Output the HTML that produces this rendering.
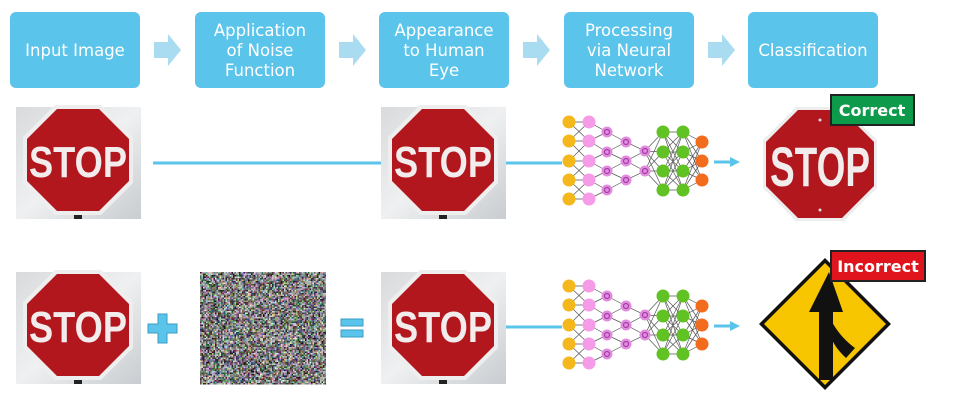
<!DOCTYPE html>
<html><head><meta charset="utf-8"><style>
body{margin:0;background:#fff;width:975px;height:416px;overflow:hidden}
svg{display:block}
.h{font-family:"DejaVu Sans","Liberation Sans",sans-serif;font-size:16.5px;fill:#fff;text-anchor:middle}
.stop{font-family:"Liberation Sans Narrow","Liberation Sans",sans-serif;font-weight:bold;fill:#f2ecec;text-anchor:middle}
</style></head><body>
<svg id="s" width="975" height="416" viewBox="0 0 975 416" xmlns="http://www.w3.org/2000/svg">
<defs>
<linearGradient id="sky" x1="0" y1="0" x2="1" y2="1"><stop offset="0" stop-color="#d8dadc"/><stop offset=".5" stop-color="#eef0f1"/><stop offset="1" stop-color="#c9ccd0"/></linearGradient>
<g id="oct"><polygon points="-23,-55 23,-55 55,-23 55,23 23,55 -23,55 -55,23 -55,-23" fill="#eee" /><polygon points="-21,-51 21,-51 51,-21 51,21 21,51 -21,51 -51,21 -51,-21" fill="#b3171e"/></g>
<g id="photo"><rect x="0" y="0" width="125" height="112" fill="url(#sky)"/><rect x="58" y="104" width="8" height="8" fill="#222"/><use href="#oct" transform="translate(62,53)"/></g>
</defs>
<g fill="#5bc4ea">
<rect x="10" y="12" width="130" height="76" rx="6"/>
<rect x="195" y="12" width="130" height="76" rx="6"/>
<rect x="379" y="12" width="130" height="76" rx="6"/>
<rect x="564" y="12" width="130" height="76" rx="6"/>
<rect x="748" y="12" width="130" height="76" rx="6"/>
</g>
<g fill="#a9dcf1">
<polygon points="154,42 168,42 168,34 181,50 168,66 168,58 154,58"/>
<polygon points="339,42 353,42 353,34 366,50 353,66 353,58 339,58"/>
<polygon points="523,42 537,42 537,34 550,50 537,66 537,58 523,58"/>
<polygon points="708,42 722,42 722,34 735,50 722,66 722,58 708,58"/>
</g>
<text class="h" x="75" y="56">Input Image</text>
<text class="h" x="260" y="36">Application</text><text class="h" x="260" y="56">of Noise</text><text class="h" x="260" y="76">Function</text>
<text class="h" x="444" y="36">Appearance</text><text class="h" x="444" y="56">to Human</text><text class="h" x="444" y="76">Eye</text>
<text class="h" x="629" y="36">Processing</text><text class="h" x="629" y="56">via Neural</text><text class="h" x="629" y="76">Network</text>
<text class="h" x="813" y="56">Classification</text>
<g stroke="#5bc4ea" stroke-width="3">
<line x1="153" y1="163" x2="382" y2="163"/><line x1="505" y1="163" x2="562" y2="163"/>
<line x1="505" y1="327" x2="562" y2="327"/>
<line x1="714" y1="162" x2="732" y2="162"/><line x1="714" y1="326" x2="732" y2="326"/>
</g>
<g fill="#5bc4ea"><polygon points="730,157 740,162 730,167"/><polygon points="730,321 740,326 730,331"/></g>
<use href="#photo" x="16" y="107"/><text class="stop" x="78" y="177" font-size="44" textLength="98" lengthAdjust="spacingAndGlyphs">STOP</text>
<use href="#photo" x="381" y="107"/><text class="stop" x="443" y="177" font-size="44" textLength="98" lengthAdjust="spacingAndGlyphs">STOP</text>
<use href="#photo" x="16" y="272"/><text class="stop" x="78" y="342" font-size="44" textLength="98" lengthAdjust="spacingAndGlyphs">STOP</text>
<use href="#photo" x="381" y="272"/><text class="stop" x="443" y="342" font-size="44" textLength="98" lengthAdjust="spacingAndGlyphs">STOP</text>
<g fill="#5bc4ea" stroke="#3a9cc4" stroke-width="1">
<polygon points="158,314 167,314 167,324 177,324 177,333 167,333 167,343 158,343 158,333 148,333 148,324 158,324"/>
<rect x="341" y="319" width="22" height="7"/><rect x="341" y="330" width="22" height="7"/>
</g>
<g id="noise"></g>
<g id="nets"></g>
<g transform="translate(820,164)"><polygon points="-24,-57 24,-57 57,-24 57,24 24,57 -24,57 -57,24 -57,-24" fill="#eee"/><polygon points="-22,-54 22,-54 54,-22 54,22 22,54 -22,54 -54,22 -54,-22" fill="#b3171e"/><circle cx="0" cy="-44" r="1.5" fill="#ddd"/><circle cx="0" cy="46" r="1.5" fill="#ddd"/></g>
<text class="stop" x="820" y="186" font-size="56" textLength="100" lengthAdjust="spacingAndGlyphs">STOP</text>
<g transform="translate(825,324)"><polygon points="0,-66 66,0 0,66 -66,0" fill="#111"/><polygon points="0,-61 61,0 0,61 -61,0" fill="#f7c600"/>
<polygon points="4,-52 -16,-12 -6,-12 -6,56 8,56 8,-12 18,-12" fill="#111"/>
<path d="M7,-2 Q16,14 30,24 L21,34 Q8,22 5,10Z" fill="#111"/></g>
<rect x="831" y="95" width="83" height="30" fill="#0d9a4a" stroke="#222" stroke-width="2"/>
<text x="872" y="116" font-family="DejaVu Sans,sans-serif" font-size="16" font-weight="bold" fill="#fff" text-anchor="middle">Correct</text>
<rect x="831" y="251" width="94" height="30" fill="#e0141c" stroke="#222" stroke-width="2"/>
<text x="878" y="272" font-family="DejaVu Sans,sans-serif" font-size="16" font-weight="bold" fill="#fff" text-anchor="middle">Incorrect</text>
</svg>
<script>
var NS="http://www.w3.org/2000/svg";
function el(p,t,a){var e=document.createElementNS(NS,t);for(var k in a)e.setAttribute(k,a[k]);p.appendChild(e);return e;}
var nz=document.getElementById('noise');
var seed=7;function r(){seed=(seed*16807)%2147483647;return seed/2147483647;}
el(nz,'rect',{x:200,y:272,width:126,height:112,fill:'#8a8a88'});
for(var y=0;y<112;y+=1.5)for(var x=0;x<126;x+=1.5){var g=40+r()*170;var c=[r(),r(),r()].map(function(v){return Math.max(0,Math.min(255,Math.floor(g+(v-0.5)*90)))});el(nz,'rect',{x:200+x,y:272+y,width:1.5,height:1.5,fill:'rgb('+c.join(',')+')'});}
var L=[[569,[122,141,161,180,199],'#f5b81c'],[589,[122,141,161,180,199],'#f59be8'],[607,[132,152,171,190],'#e28be0'],[626,[142,161,180],'#e28be0'],[645,[151,171],'#e28be0'],[663,[132,152,171,190],'#61c323'],[683,[132,152,171,190],'#61c323'],[702,[142,161,180],'#f36b1c']];
var nets=document.getElementById('nets');
[0,164].forEach(function(dy){
 for(var i=0;i<L.length-1;i++){var a=L[i],b=L[i+1];a[1].forEach(function(ya){b[1].forEach(function(yb){if(i<4&&Math.abs(ya-yb)>22)return;el(nets,'line',{x1:a[0],y1:ya+dy,x2:b[0],y2:yb+dy,stroke:'#555','stroke-width':0.7});});});}
 L.forEach(function(l,i){l[1].forEach(function(y){el(nets,'circle',{cx:l[0],cy:y+dy,r:(i>=2&&i<=4)?5.5:6.5,fill:l[2]});if(i>=2&&i<=4)el(nets,'circle',{cx:l[0],cy:y+dy,r:2.5,fill:'none',stroke:'#a040a0','stroke-width':1.2});});});
});
</script>
</body></html>
